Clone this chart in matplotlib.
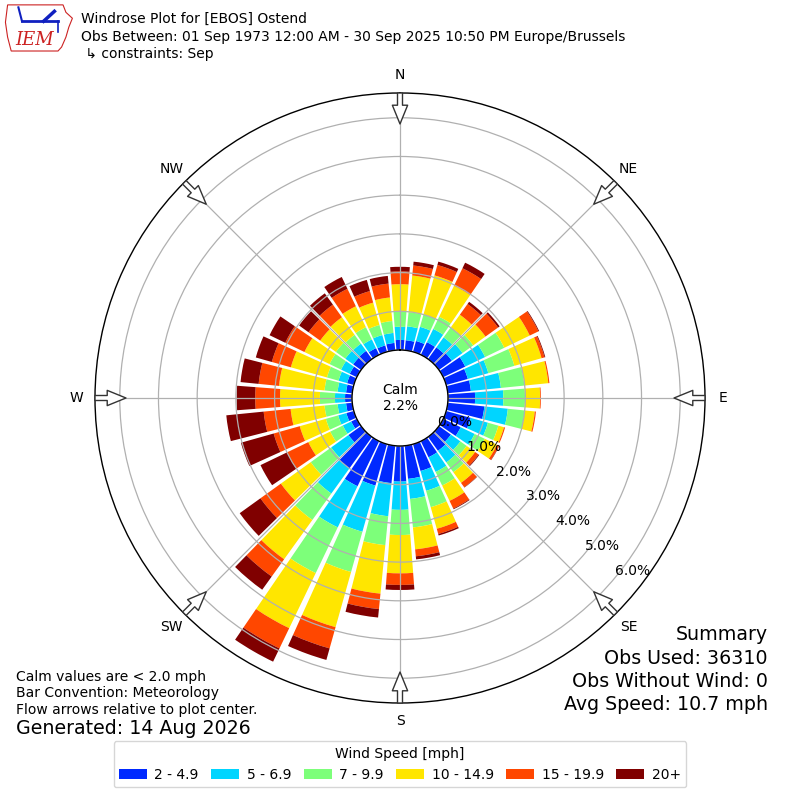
import numpy as np
import matplotlib
matplotlib.use("Agg")
import matplotlib.pyplot as plt
from matplotlib.patches import Patch, Polygon

# direction bins (deg, meteorological) and percent frequency per speed bin
directions = list(range(0, 360, 10))
speed_labels = ["2 - 4.9", "5 - 6.9", "7 - 9.9", "10 - 14.9", "15 - 19.9", "20+"]

s2_5 = [0.26, 0.26, 0.29, 0.36, 0.37, 0.41, 0.63, 0.58, 0.60, 0.70, 0.95, 0.66,
        0.50, 0.38, 0.44, 0.46, 0.72, 0.86, 0.92, 0.97, 1.11, 1.29, 1.00, 0.40,
        0.16, 0.20, 0.16, 0.18, 0.16, 0.18, 0.20, 0.25, 0.26, 0.19, 0.17, 0.19]
s5_7 = [0.34, 0.36, 0.38, 0.38, 0.32, 0.34, 0.57, 0.55, 0.78, 0.73, 0.61, 0.46,
        0.40, 0.30, 0.37, 0.42, 0.53, 0.52, 0.73, 0.86, 1.24, 1.18, 0.80, 0.55,
        0.24, 0.22, 0.22, 0.26, 0.22, 0.23, 0.25, 0.25, 0.23, 0.25, 0.28, 0.26]
s7_10 = [0.39, 0.37, 0.33, 0.35, 0.32, 0.34, 0.55, 0.70, 0.61, 0.56, 0.44, 0.28,
         0.29, 0.20, 0.31, 0.39, 0.44, 0.74, 0.65, 0.75, 1.08, 1.31, 0.84, 0.65,
         0.36, 0.33, 0.34, 0.39, 0.34, 0.31, 0.33, 0.30, 0.28, 0.35, 0.27, 0.31]
s10_15 = [0.71, 0.95, 1.05, 0.89, 0.40, 0.39, 0.73, 0.73, 0.62, 0.39, 0.26, 0.15,
          0.35, 0.27, 0.34, 0.44, 0.58, 0.57, 0.99, 1.26, 1.48, 1.58, 1.25, 0.95,
          0.63, 0.70, 0.88, 1.03, 1.18, 0.97, 0.72, 0.50, 0.56, 0.60, 0.60, 0.61]
s15_20 = [0.33, 0.26, 0.28, 0.50, 0.34, 0.40, 0.25, 0.08, 0.03, 0.02, 0.03, 0.03,
          0.06, 0.11, 0.14, 0.22, 0.14, 0.18, 0.30, 0.40, 0.57, 0.58, 0.55, 0.65,
          0.61, 0.70, 0.70, 0.64, 0.53, 0.51, 0.55, 0.37, 0.40, 0.50, 0.31, 0.36]
s20_up = [0.12, 0.10, 0.09, 0.16, 0.07, 0.05, 0.02, 0.02, 0.00, 0.00, 0.00, 0.00,
          0.01, 0.02, 0.01, 0.02, 0.04, 0.08, 0.13, 0.22, 0.31, 0.38, 0.42, 0.66,
          0.76, 0.88, 0.97, 0.48, 0.47, 0.43, 0.45, 0.30, 0.36, 0.34, 0.30, 0.20]

calm_pct = 2.2
ring_values = [0, 1, 2, 3, 4, 5, 6]
compass = ["N", "NE", "E", "SE", "S", "SW", "W", "NW"]

title_lines = [
    "Windrose Plot for [EBOS] Ostend",
    "Obs Between: 01 Sep 1973 12:00 AM - 30 Sep 2025 10:50 PM Europe/Brussels",
    " \u21b3 constraints: Sep",
]
left_notes = ["Calm values are < 2.0 mph", "Bar Convention: Meteorology",
              "Flow arrows relative to plot center."]
summary = ["Summary", "Obs Used: 36310", "Obs Without Wind: 0",
           "Avg Speed: 10.7 mph"]

series = [s2_5, s5_7, s7_10, s10_15, s15_20, s20_up]
colors = plt.cm.jet(np.linspace(0, 1, 7)[1:])

fig = plt.figure(figsize=(8, 8), dpi=100)
ax = fig.add_axes([0.11875, 0.12125, 0.7625, 0.7625], projection="polar")
ax.set_theta_zero_location("N")
ax.set_theta_direction(-1)

theta = np.deg2rad(directions)
bottom = np.zeros(len(directions))
for vals, col in zip(series, colors):
    vals = np.array(vals)
    ax.bar(theta, vals, width=np.deg2rad(8.6), bottom=bottom, color=col,
           linewidth=0, zorder=1)
    bottom = bottom + vals

rmax = 6.64
ax.set_rlim(0, rmax)
ax.set_rorigin(-1.24)
ax.set_rticks(ring_values)
ax.set_yticklabels([])
ax.set_thetagrids(np.arange(0, 360, 45), [""] * 8)
ax.grid(True, color="#b0b0b0", linewidth=0.9)
for sp in ax.spines.values():
    sp.set_linewidth(1.0)

# ring labels
for k in ring_values:
    ax.text(np.deg2rad(130), k, "%.1f%%" % k, ha="left", va="bottom",
            fontsize=10, zorder=5)

# compass labels and inward flow arrows
for i, name in enumerate(compass):
    ang = np.deg2rad(45 * i)
    ax.text(0.5 + 0.53 * np.sin(ang), 0.5 + 0.53 * np.cos(ang), name,
            transform=ax.transAxes, ha="center", va="center", fontsize=10)
    ax.annotate("", xy=(ang, rmax - 0.8), xytext=(ang, rmax),
                arrowprops=dict(arrowstyle="simple,head_length=1.35,head_width=1.1,tail_width=0.36",
                                fc="white", ec="#333333", lw=1, shrinkA=0, shrinkB=0,
                                mutation_scale=10),
                annotation_clip=False, zorder=6)

ax.text(0.5, 0.5, "Calm\n%.1f%%" % calm_pct, transform=ax.transAxes,
        ha="center", va="center", fontsize=10)

# header
for i, line in enumerate(title_lines):
    fig.text(81 / 800, 1 - (19 + 17.5 * i) / 800, line, fontsize=10, va="center")

# logo
lax = fig.add_axes([0.005, 0.935, 0.09, 0.062])
lax.set_xlim(0, 1)
lax.set_ylim(0, 1)
lax.axis("off")
outline = [(0.05, 0.95), (0.82, 0.95), (0.86, 0.8), (0.95, 0.68), (0.9, 0.5),
           (0.86, 0.3), (0.8, 0.1), (0.75, 0.02), (0.1, 0.02), (0.05, 0.3),
           (0.02, 0.6)]
lax.add_patch(Polygon(outline, closed=True, fill=False, ec="#cc2222", lw=0.8))
lax.plot([0.25, 0.75], [0.62, 0.62], color="#1020c0", lw=2)
lax.plot([0.25, 0.2], [0.62, 0.9], color="#1020c0", lw=1.5)
lax.plot([0.55, 0.7], [0.62, 0.82], color="#1020c0", lw=2.5)
lax.plot([0.75, 0.75], [0.62, 0.4], color="#1020c0", lw=1.2)
lax.text(0.42, 0.24, "IEM", color="#cc2222", fontsize=13, family="serif",
         style="italic", ha="center", va="center")

# notes
for i, line in enumerate(left_notes):
    fig.text(16 / 800, 1 - (677 + 16.5 * i) / 800, line, fontsize=10, va="center")
fig.text(16 / 800, 1 - 729 / 800, "Generated: 14 Aug 2026", fontsize=13.7,
         va="center")
for i, line in enumerate(summary):
    fig.text(768 / 800, 1 - (635 + 23.3 * i) / 800, line, fontsize=13.7,
             ha="right", va="center")

handles = [Patch(facecolor=c, edgecolor="none") for c in colors]
fig.legend(handles, speed_labels, loc="lower center", bbox_to_anchor=(0.5, 0.007),
           ncol=6, title="Wind Speed [mph]", fontsize=10, title_fontsize=10,
           columnspacing=0.9, handlelength=2.0, handletextpad=0.55)

fig.savefig("out.png", dpi=100)
